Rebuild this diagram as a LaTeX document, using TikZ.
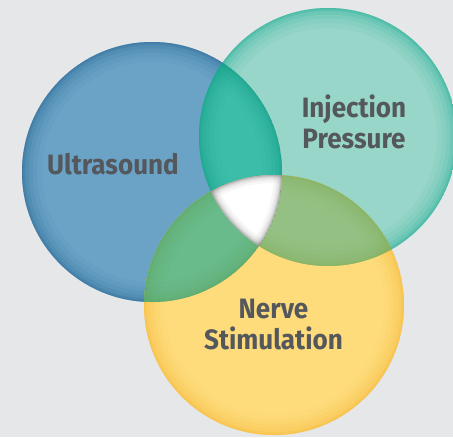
\documentclass[tikz,border=0pt]{standalone}
\usepackage{fontspec}
\setmainfont{Fira Sans}
\newfontfamily\lblfont{Fira Sans}[FakeStretch=0.93]
\definecolor{bg}{HTML}{E6E7E8}
\definecolor{bluein}{HTML}{6AA3C6}
\definecolor{blueout}{HTML}{2A6896}
\definecolor{tealin}{HTML}{98D6C9}
\definecolor{tealout}{HTML}{1FB095}
\definecolor{yelin}{HTML}{FEDC7C}
\definecolor{yelout}{HTML}{F6B936}
\definecolor{btin}{HTML}{3CBDA9}
\definecolor{btout}{HTML}{139E87}
\definecolor{byin}{HTML}{69BB8B}
\definecolor{byout}{HTML}{5EA867}
\definecolor{tyin}{HTML}{94C084}
\definecolor{tyout}{HTML}{86B25A}
\definecolor{txt}{HTML}{54575C}
\newcommand\rimband[3]{%
  \foreach \w/\o in {40/0.06,30/0.08,21/0.11,13/0.15,6/0.22,2/0.3}{%
    \draw[line width=\w pt,draw=#3,opacity=\o] (#1) circle[radius=#2];}}
\tikzset{lbl/.style={font=\lblfont\bfseries\fontsize{28}{31}\selectfont, text=txt, inner sep=0pt, align=center}}
\begin{document}
\begin{tikzpicture}[x=1pt,y=-1pt]
\fill[bg] (0,0) rectangle (453,437);
\useasboundingbox (0,0) rectangle (453,437);
\coordinate (A) at (152,172);
\coordinate (B) at (328,137);
\coordinate (C) at (274,305);
% single circles
\begin{scope}
  \clip (A) circle[radius=130];
  \fill[bluein] (A) circle[radius=130];
  \rimband{A}{130}{blueout}
\end{scope}
\begin{scope}
  \clip (B) circle[radius=129];
  \fill[tealin] (B) circle[radius=129];
  \rimband{B}{129}{tealout}
\end{scope}
\begin{scope}
  \clip (C) circle[radius=130];
  \fill[yelin] (C) circle[radius=130];
  \rimband{C}{130}{yelout}
\end{scope}
% lenses
\begin{scope}
  \clip (A) circle[radius=130];
  \clip (B) circle[radius=129];
  \fill[btin] (A) circle[radius=130];
  \rimband{A}{130}{btout}
  \rimband{B}{129}{btout}
\end{scope}
\begin{scope}
  \clip (A) circle[radius=130];
  \clip (C) circle[radius=130];
  \fill[byin] (A) circle[radius=130];
  \rimband{A}{130}{byout}
  \rimband{C}{130}{byout}
\end{scope}
\begin{scope}
  \clip (B) circle[radius=129];
  \clip (C) circle[radius=130];
  \fill[tyin] (B) circle[radius=129];
  \rimband{B}{129}{tyout}
  \rimband{C}{130}{tyout}
\end{scope}
% centre
\begin{scope}
  \clip (A) circle[radius=130];
  \clip (B) circle[radius=129];
  \clip (C) circle[radius=130];
  \fill[white] (A) circle[radius=130];
  \foreach \w/\o in {16/0.06,11/0.09,7/0.13,4/0.2,2/0.3}{%
    \draw[line width=\w pt,draw=gray,opacity=\o] (A) circle[radius=130];
    \draw[line width=\w pt,draw=gray,opacity=\o] (B) circle[radius=129];
    \draw[line width=\w pt,draw=gray,opacity=\o] (C) circle[radius=130];}
\end{scope}
% labels
\node[lbl, anchor=base] (us) at (113,174.5) {Ultrasound};
\node[lbl] (ip) at (354,122) {Injection\\Pressure};
\node[lbl] (ns) at (273.5,324.5) {Nerve\\Stimulation};
\end{tikzpicture}
\end{document}
